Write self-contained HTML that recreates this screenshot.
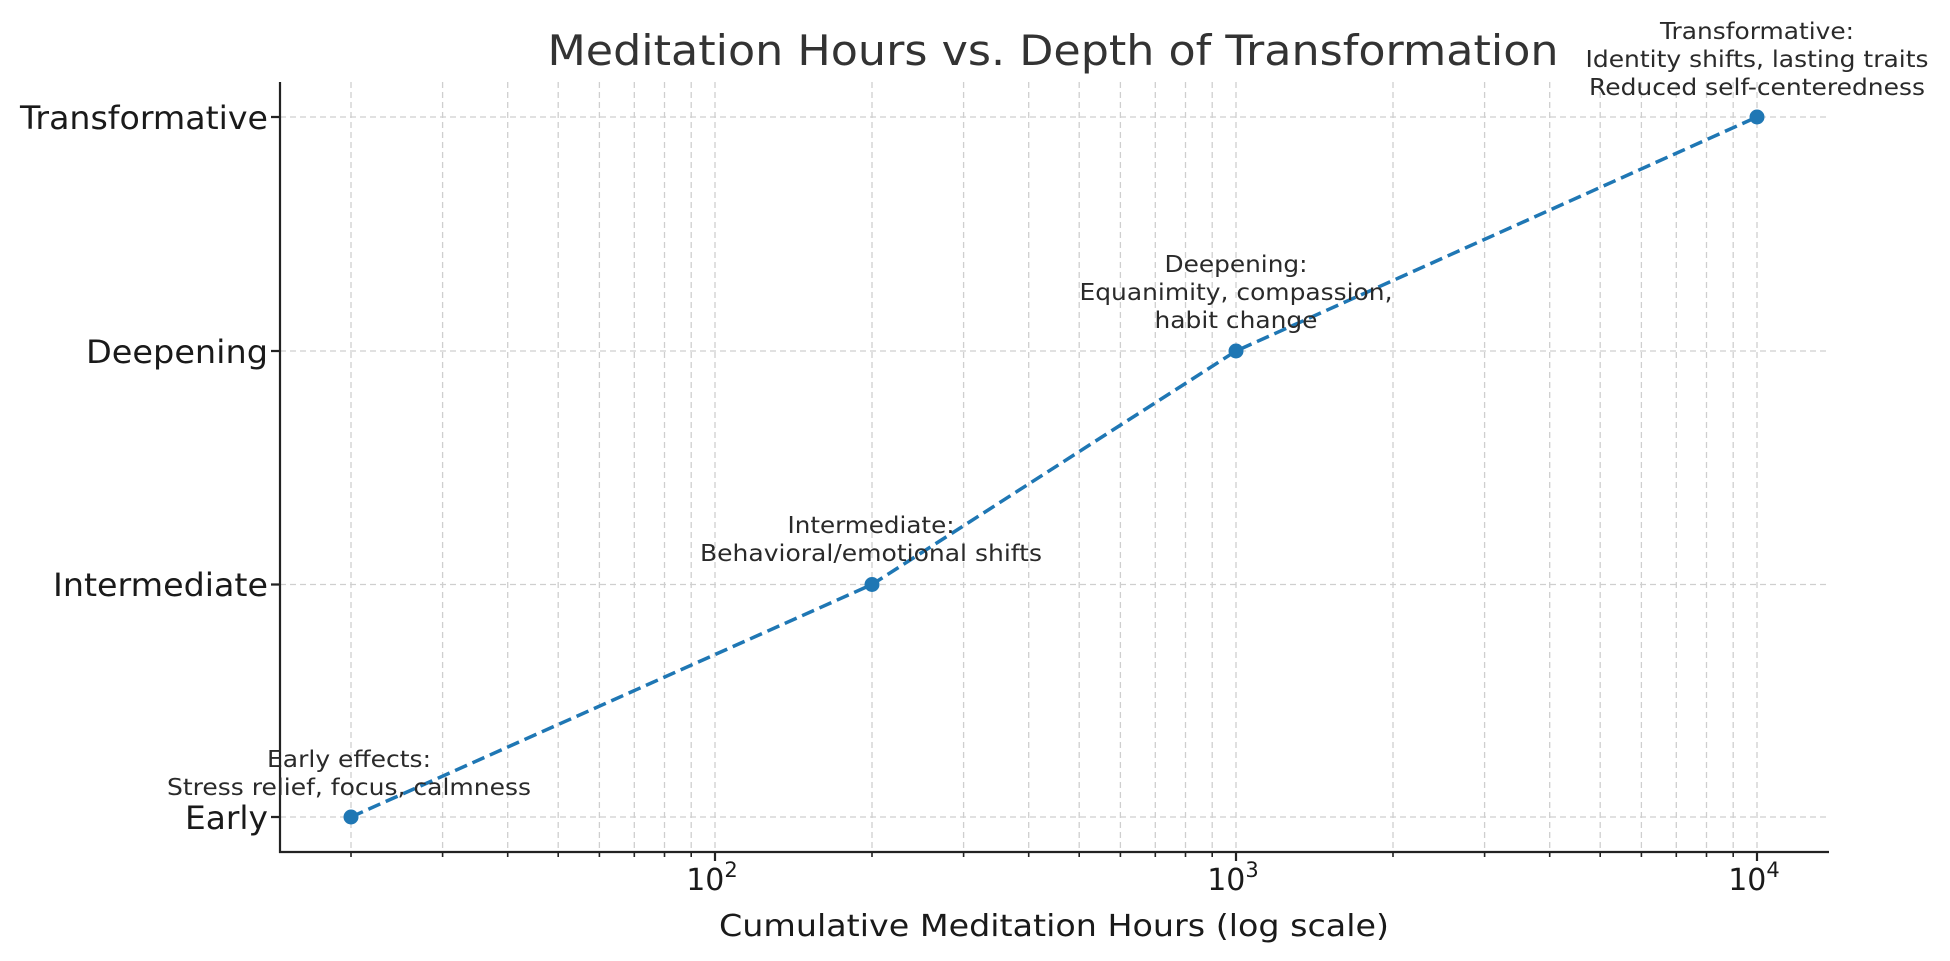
<!DOCTYPE html>
<html><head><meta charset="utf-8"><style>html,body{margin:0;padding:0;background:#fff}svg{display:block}</style></head>
<body>
<svg width="1950" height="961" xmlns="http://www.w3.org/2000/svg" font-family="DejaVu Sans, Liberation Sans, sans-serif">
<rect width="1950" height="961" fill="#fff"/>
<g stroke="#cfcfcf" stroke-width="1.3" stroke-dasharray="6,4" fill="none">
<path d="M351 82V852M442.6 82V852M507.7 82V852M558.2 82V852M599.4 82V852M634.3 82V852M664.5 82V852M691.2 82V852M715 82V852M872 82V852M963.6 82V852M1028.7 82V852M1079.2 82V852M1120.4 82V852M1155.3 82V852M1185.5 82V852M1212.2 82V852M1236 82V852M1393 82V852M1484.6 82V852M1549.7 82V852M1600.2 82V852M1641.4 82V852M1676.3 82V852M1706.5 82V852M1733.2 82V852M1757 82V852"/>
<path d="M280 117H1828M280 351H1828M280 584.5H1828M280 817H1828"/>
</g>
<g stroke="#222" stroke-width="2.2" fill="none">
<path d="M280 82V853M279 852H1829"/>
<path d="M280 117h-9M280 351h-9M280 584.5h-9M280 817h-9"/>
<path d="M715 852v9M1236 852v9M1757 852v9"/>
<path stroke-width="1.6" d="M351 852v5M442.6 852v5M507.7 852v5M558.2 852v5M599.4 852v5M634.3 852v5M664.5 852v5M691.2 852v5M872 852v5M963.6 852v5M1028.7 852v5M1079.2 852v5M1120.4 852v5M1155.3 852v5M1185.5 852v5M1212.2 852v5M1393 852v5M1484.6 852v5M1549.7 852v5M1600.2 852v5M1641.4 852v5M1676.3 852v5M1706.5 852v5M1733.2 852v5"/>
</g>
<polyline points="351,817 872,584.5 1236,351 1757,117" fill="none" stroke="#1f77b4" stroke-width="3.5" stroke-dasharray="13,6"/>
<g fill="#1f77b4"><circle cx="351" cy="817" r="7.5"/><circle cx="872" cy="584.5" r="7.5"/><circle cx="1236" cy="351" r="7.5"/><circle cx="1757" cy="117" r="7.5"/></g>
<text x="1053" y="65" text-anchor="middle" font-size="42" fill="#333" textLength="1011" lengthAdjust="spacingAndGlyphs">Meditation Hours vs. Depth of Transformation</text>
<g font-size="32" fill="#1a1a1a" text-anchor="end">
<text x="268" y="129" textLength="248" lengthAdjust="spacingAndGlyphs">Transformative</text>
<text x="268" y="363" textLength="182" lengthAdjust="spacingAndGlyphs">Deepening</text>
<text x="268" y="596" textLength="215" lengthAdjust="spacingAndGlyphs">Intermediate</text>
<text x="268" y="829" textLength="83" lengthAdjust="spacingAndGlyphs">Early</text>
</g>
<g font-size="30" fill="#1a1a1a" text-anchor="middle">
<text x="712" y="890">10<tspan font-size="21" dy="-13">2</tspan></text>
<text x="1233" y="890">10<tspan font-size="21" dy="-13">3</tspan></text>
<text x="1754" y="890">10<tspan font-size="21" dy="-13">4</tspan></text>
<text x="1054" y="936" textLength="670" lengthAdjust="spacingAndGlyphs">Cumulative Meditation Hours (log scale)</text>
</g>
<g font-size="23" fill="#2a2a2a" text-anchor="middle" lengthAdjust="spacingAndGlyphs">
<text x="1757" y="39" textLength="194" lengthAdjust="spacingAndGlyphs">Transformative:</text>
<text x="1757" y="67" textLength="343" lengthAdjust="spacingAndGlyphs">Identity shifts, lasting traits</text>
<text x="1757" y="95" textLength="336" lengthAdjust="spacingAndGlyphs">Reduced self-centeredness</text>
<text x="1236" y="272" textLength="143" lengthAdjust="spacingAndGlyphs">Deepening:</text>
<text x="1236" y="300" textLength="313" lengthAdjust="spacingAndGlyphs">Equanimity, compassion,</text>
<text x="1236" y="328" textLength="163" lengthAdjust="spacingAndGlyphs">habit change</text>
<text x="871" y="533" textLength="167" lengthAdjust="spacingAndGlyphs">Intermediate:</text>
<text x="871" y="561" textLength="342" lengthAdjust="spacingAndGlyphs">Behavioral/emotional shifts</text>
<text x="349" y="767" textLength="164" lengthAdjust="spacingAndGlyphs">Early effects:</text>
<text x="349" y="795" textLength="364" lengthAdjust="spacingAndGlyphs">Stress relief, focus, calmness</text>
</g>
</svg>
</body></html>
